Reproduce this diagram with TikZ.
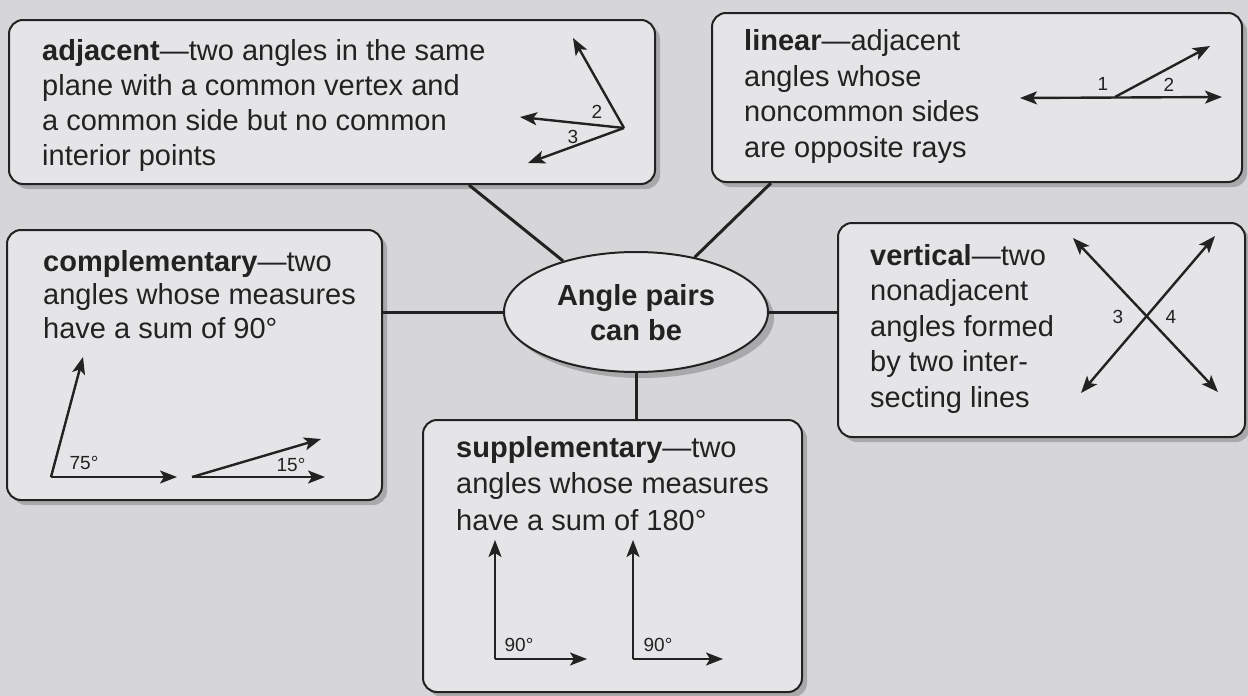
\documentclass[tikz,border=0pt]{standalone}
\usepackage{fontspec}
\setmainfont{Liberation Sans}
\usetikzlibrary{arrows.meta,shapes.geometric,calc,shadows}
\definecolor{bg}{RGB}{214,214,216}
\definecolor{boxfill}{RGB}{229,229,231}
\definecolor{ink}{RGB}{34,34,34}
\definecolor{shade}{RGB}{150,150,152}
\begin{document}
\begin{tikzpicture}[x=1pt,y=-1pt,
  cbox/.style={draw=ink, line width=2pt, rounded corners=14pt, fill=boxfill, inner sep=0pt,
    drop shadow={shadow xshift=5pt, shadow yshift=-5pt, fill=shade, opacity=.7}},
  btext/.style={anchor=base west, inner sep=0pt, align=left, text=ink},
  lbl/.style={inner sep=0pt, text=ink, font=\fontsize{19}{22}\selectfont},
  conn/.style={draw=ink, line width=3pt},
  ray/.style={draw=ink, line width=2.4pt, -{Stealth[length=17pt,width=13pt,inset=4pt]}},
  dray/.style={draw=ink, line width=2.4pt, {Stealth[length=17pt,width=13pt,inset=4pt]}-{Stealth[length=17pt,width=13pt,inset=4pt]}}]
\fill[bg] (0,0) rectangle (1248,696);
\useasboundingbox (0,0) rectangle (1248,696);

% boxes
\node[cbox, minimum width=646pt, minimum height=164pt] (adj) at (332,102) {};
\node[cbox, minimum width=530pt, minimum height=169pt] (lin) at (977,97.5) {};
\node[cbox, minimum width=375pt, minimum height=270pt] (comp) at (194.5,365) {};
\node[cbox, minimum width=407pt, minimum height=214pt] (vert) at (1041.5,330) {};
\node[cbox, minimum width=379pt, minimum height=272pt] (sup) at (612.5,556) {};
\node[ellipse, draw=ink, line width=2pt, fill=boxfill, minimum width=264pt, minimum height=120pt, inner sep=0pt,
  drop shadow={shadow xshift=6pt, shadow yshift=-6pt, fill=shade, opacity=.7}] (ell) at (636,312) {};

% connectors
\draw[conn] ($(adj.south west)+(461,0)$) -- (ell.145);
\draw[conn] ($(lin.south west)+(60,0)$) -- (ell.43);
\draw[conn] (ell.west) -- (ell.west -| comp.east);
\draw[conn] (ell.east) -- (ell.east -| vert.west);
\draw[conn] (ell.south) -- (ell.south |- sup.north);

% texts (anchor = baseline of the last line)
\node[btext, font=\fontsize{29}{35}\selectfont] (adjt) at (42,165)
  {\textbf{adjacent}—two angles in the same\\plane with a common vertex and\\a common side but no common\\interior points};
\node[btext, font=\fontsize{29}{35.5}\selectfont] (lint) at (744,157)
  {\textbf{linear}—adjacent\\angles whose\\noncommon sides\\are opposite rays};
\node[btext, font=\fontsize{29}{33.5}\selectfont] (compt) at (43,338)
  {\textbf{complementary}—two\\angles whose measures\\have a sum of 90°};
\node[btext, font=\fontsize{29}{35.5}\selectfont] (vertt) at (870,407)
  {\textbf{vertical}—two\\nonadjacent\\angles formed\\by two inter-\\secting lines};
\node[btext, font=\fontsize{29}{36.5}\selectfont] (supt) at (456,530)
  {\textbf{supplementary}—two\\angles whose measures\\have a sum of 180°};
\node[anchor=base, inner sep=0pt, align=center, text=ink, font=\bfseries\fontsize{29}{35}\selectfont] (ellt) at (636,340)
  {Angle pairs\\can be};

% adjacent figure
\coordinate (av) at (624,128);
\coordinate (a1) at (573,38);
\coordinate (a2) at (520,117);
\coordinate (a3) at (528,163);
\draw[ray] (av) -- (a1);
\draw[ray] (av) -- (a2);
\draw[ray] (av) -- (a3);
\node[lbl] (al2) at (597,112) {2};
\node[lbl] (al3) at (573,137) {3};

% linear figure
\coordinate (lv) at (1115,97);
\coordinate (lL) at (1020,98);
\coordinate (lR) at (1222,97);
\coordinate (lU) at (1210,46);
\draw[dray] (lL) -- (lR);
\draw[ray] (lv) -- (lU);
\node[lbl] (ll1) at (1103,84) {1};
\node[lbl] (ll2) at (1169,85) {2};

% vertical figure
\coordinate (vUL) at (1073,238);
\coordinate (vLR) at (1218,392);
\coordinate (vUR) at (1215,236);
\coordinate (vLL) at (1081,393);
\draw[dray] (vUL) -- (vLR);
\draw[dray] (vLL) -- (vUR);
\node[lbl] (vl3) at (1118,317) {3};
\node[lbl] (vl4) at (1171,317) {4};

% complementary figure
\coordinate (c1v) at (51,477);
\coordinate (c1u) at (83,357);
\coordinate (c1r) at (177,477);
\draw[ray] (c1v) -- (c1u);
\draw[ray] (c1v) -- (c1r);
\node[lbl] (cl1) at (84,463) {75°};
\coordinate (c2v) at (192,477);
\coordinate (c2u) at (321,439);
\coordinate (c2r) at (325,477);
\draw[ray] (c2v) -- (c2u);
\draw[ray] (c2v) -- (c2r);
\node[lbl] (cl2) at (291,465) {15°};

% supplementary figure
\coordinate (s1v) at (495,659);
\coordinate (s1u) at (495,540);
\coordinate (s1r) at (587,659);
\draw[ray] (s1v) -- (s1u);
\draw[ray] (s1v) -- (s1r);
\node[lbl] (sl1) at (519,645) {90°};
\coordinate (s2v) at (633,659);
\coordinate (s2u) at (633,540);
\coordinate (s2r) at (723,659);
\draw[ray] (s2v) -- (s2u);
\draw[ray] (s2v) -- (s2r);
\node[lbl] (sl2) at (658,645) {90°};
\end{tikzpicture}
\end{document}
